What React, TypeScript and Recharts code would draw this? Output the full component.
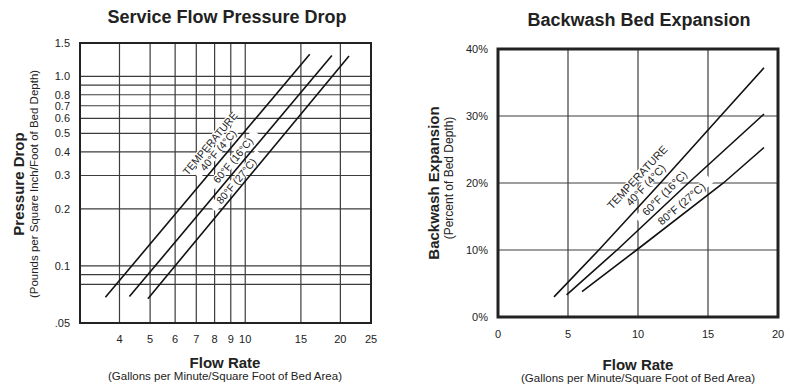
import React from "react";
import { LineChart, Line, XAxis, YAxis, ReferenceLine, ReferenceDot, ReferenceArea } from "recharts";

// --- Service Flow Pressure Drop (log-log) ---
const pdXTicks = [4, 5, 6, 7, 8, 9, 10, 15, 20, 25];
const pdXGrid = [4, 5, 6, 7, 8, 9, 10, 15, 20];
const pdYTicks = [0.05, 0.1, 0.2, 0.3, 0.4, 0.5, 0.6, 0.7, 0.8, 1.0, 1.5];
const pdYGrid = [0.08, 0.09, 0.1, 0.2, 0.3, 0.4, 0.5, 0.6, 0.7, 0.8, 0.9, 1.0];
const pd40 = [{ x: 3.61, y: 0.0684 }, { x: 16.0, y: 1.31 }];
const pd60 = [{ x: 4.3, y: 0.0689 }, { x: 18.8, y: 1.29 }];
const pd80 = [{ x: 4.92, y: 0.0672 }, { x: 21.3, y: 1.28 }];
const pdTags = [
  { x: 7.73, y: 0.444, angle: -50, lines: ["TEMPERATURE", "40°F (4°C)"] },
  { x: 9.13, y: 0.362, angle: -50, lines: ["60°F (16°C)"] },
  { x: 9.35, y: 0.281, angle: -50, lines: ["80°F (27°C)"] },
];

// --- Backwash Bed Expansion (linear) ---
const bwXTicks = [0, 5, 10, 15, 20];
const bwXGrid = [5, 10, 15];
const bwYTicks = [0, 10, 20, 30, 40];
const bwYGrid = [10, 20, 30];
const bw40 = [{ x: 4, y: 3 }, { x: 7.2, y: 10 }, { x: 11.6, y: 20 }, { x: 15.9, y: 30 }, { x: 19, y: 37.2 }];
const bw60 = [{ x: 4.9, y: 3.3 }, { x: 8.5, y: 10 }, { x: 13.6, y: 20 }, { x: 19, y: 30.3 }];
const bw80 = [{ x: 6, y: 3.8 }, { x: 9.9, y: 10 }, { x: 16.1, y: 20 }, { x: 19, y: 25.3 }];
const bwTags = [
  { x: 9.94, y: 20.87, angle: -47, lines: ["TEMPERATURE", "40°F (4°C)"] },
  { x: 11.89, y: 18.5, angle: -45, lines: ["60°F (16°C)"] },
  { x: 13.1, y: 16.9, angle: -40.5, lines: ["80°F (27°C)"] },
];

const FONT = '"Liberation Sans", Arial, Helvetica, sans-serif';
const INK = "#222";
const GRID = "#3c3c3c";

function Txt({ x, y, size, bold, rotate, children }: any) {
  return (
    <div
      style={{
        position: "absolute",
        left: x,
        top: y,
        transform: `translate(-50%,-50%)${rotate ? ` rotate(${rotate}deg)` : ""}`,
        whiteSpace: "nowrap",
        fontFamily: FONT,
        fontSize: size,
        fontWeight: bold ? 700 : 400,
        color: INK,
        lineHeight: 1,
      }}
    >
      {children}
    </div>
  );
}

function lineTag(lines: string[], angle: number, gap: number, size: number) {
  return (p: any) => {
    const { cx, cy } = p;
    return (
      <g transform={`translate(${cx},${cy}) rotate(${angle})`}>
        {lines.map((t, i) => {
          const w = t.length * size * 0.58 + 6;
          return <rect key={"r" + i} x={-w / 2} y={i * gap - 4.5} width={w} height={9} fill="#fff" />;
        })}
        {lines.map((t, i) => (
          <text key={"t" + i} x={0} y={i * gap} textAnchor="middle" dominantBaseline="central"
            fontSize={size} fontFamily={FONT} fill={INK}>{t}</text>
        ))}
      </g>
    );
  };
}

const tickStyle = { fontSize: 11, fill: INK, fontFamily: FONT };

function PressureChart() {
  return (
    <LineChart width={400} height={392} margin={{ top: 43, right: 29, bottom: 0, left: 0 }}>
      <XAxis dataKey="x" type="number" scale="log" domain={[3, 25]} allowDataOverflow ticks={pdXTicks}
        axisLine={false} tickLine={false} tickSize={0} tickMargin={12} height={69} tick={tickStyle} interval={0} />
      <YAxis dataKey="y" type="number" scale="log" domain={[0.05, 1.5]} allowDataOverflow ticks={pdYTicks}
        axisLine={false} tickLine={false} tickSize={0} tickMargin={10} width={80} tick={tickStyle} interval={0}
        tickFormatter={(v: number) => (v === 0.05 ? ".05" : v.toFixed(1))} />
      {pdXGrid.map((v) => <ReferenceLine key={"vx" + v} x={v} stroke={GRID} strokeWidth={1.2} zIndex={-30} />)}
      {pdYGrid.map((v) => <ReferenceLine key={"hy" + v} y={v} stroke={GRID} strokeWidth={1.2} zIndex={-30} />)}
      {pdTags.map((t, i) => (
        <ReferenceDot key={"pt" + i} x={t.x} y={t.y} r={0} zIndex={-20} shape={lineTag(t.lines, t.angle, 10.6, 10.5)} />
      ))}
      <ReferenceArea x1={3} x2={25} y1={0.05} y2={1.5} fill="none" stroke={INK} strokeWidth={2} />
      <Line data={pd40} dataKey="y" stroke="#111" strokeWidth={1.6} dot={false} isAnimationActive={false} />
      <Line data={pd60} dataKey="y" stroke="#111" strokeWidth={1.6} dot={false} isAnimationActive={false} />
      <Line data={pd80} dataKey="y" stroke="#111" strokeWidth={1.6} dot={false} isAnimationActive={false} />
    </LineChart>
  );
}

function BackwashChart() {
  return (
    <LineChart width={395} height={392} margin={{ top: 49, right: 17, bottom: 0, left: 0 }}>
      <XAxis dataKey="x" type="number" domain={[0, 20]} allowDataOverflow ticks={bwXTicks}
        axisLine={false} tickLine={false} tickSize={0} tickMargin={13} height={75} tick={tickStyle} interval={0} />
      <YAxis dataKey="y" type="number" domain={[0, 40]} allowDataOverflow ticks={bwYTicks}
        axisLine={false} tickLine={false} tickSize={0} tickMargin={10} width={98} tick={tickStyle} interval={0}
        tickFormatter={(v: number) => v + "%"} />
      {bwXGrid.map((v) => <ReferenceLine key={"vx" + v} x={v} stroke={GRID} strokeWidth={1.2} zIndex={-30} />)}
      {bwYGrid.map((v) => <ReferenceLine key={"hy" + v} y={v} stroke={GRID} strokeWidth={1.2} zIndex={-30} />)}
      {bwTags.map((t, i) => (
        <ReferenceDot key={"bt" + i} x={t.x} y={t.y} r={0} zIndex={-20} shape={lineTag(t.lines, t.angle, 11.5, 11)} />
      ))}
      <ReferenceArea x1={0} x2={20} y1={0} y2={40} fill="none" stroke={INK} strokeWidth={3} />
      <Line data={bw40} dataKey="y" stroke="#111" strokeWidth={1.6} dot={false} isAnimationActive={false} />
      <Line data={bw60} dataKey="y" stroke="#111" strokeWidth={1.6} dot={false} isAnimationActive={false} />
      <Line data={bw80} dataKey="y" stroke="#111" strokeWidth={1.6} dot={false} isAnimationActive={false} />
    </LineChart>
  );
}

export default function App() {
  return (
    <div style={{ position: "absolute", left: 0, top: 0, width: 795, height: 392, background: "#fff", overflow: "hidden" }}>
      <div style={{ position: "absolute", left: 0, top: 0 }}>
        <PressureChart />
      </div>
      <div style={{ position: "absolute", left: 400, top: 0 }}>
        <BackwashChart />
      </div>

      <Txt x={227} y={17} size={18} bold>Service Flow Pressure Drop</Txt>
      <Txt x={18} y={184} size={15} bold rotate={-90}>Pressure Drop</Txt>
      <Txt x={35} y={184} size={11.5} rotate={-90}>(Pounds per Square Inch/Foot of Bed Depth)</Txt>
      <Txt x={225} y={362} size={15} bold>Flow Rate</Txt>
      <Txt x={225} y={377} size={11.5}>(Gallons per Minute/Square Foot of Bed Area)</Txt>

      <Txt x={639} y={20} size={18} bold>Backwash Bed Expansion</Txt>
      <Txt x={433} y={183} size={15} bold rotate={-90}>Backwash Expansion</Txt>
      <Txt x={449} y={178} size={12} rotate={-90}>(Percent of Bed Depth)</Txt>
      <Txt x={638} y={364} size={15} bold>Flow Rate</Txt>
      <Txt x={638} y={379} size={11.5}>(Gallons per Minute/Square Foot of Bed Area)</Txt>
    </div>
  );
}
